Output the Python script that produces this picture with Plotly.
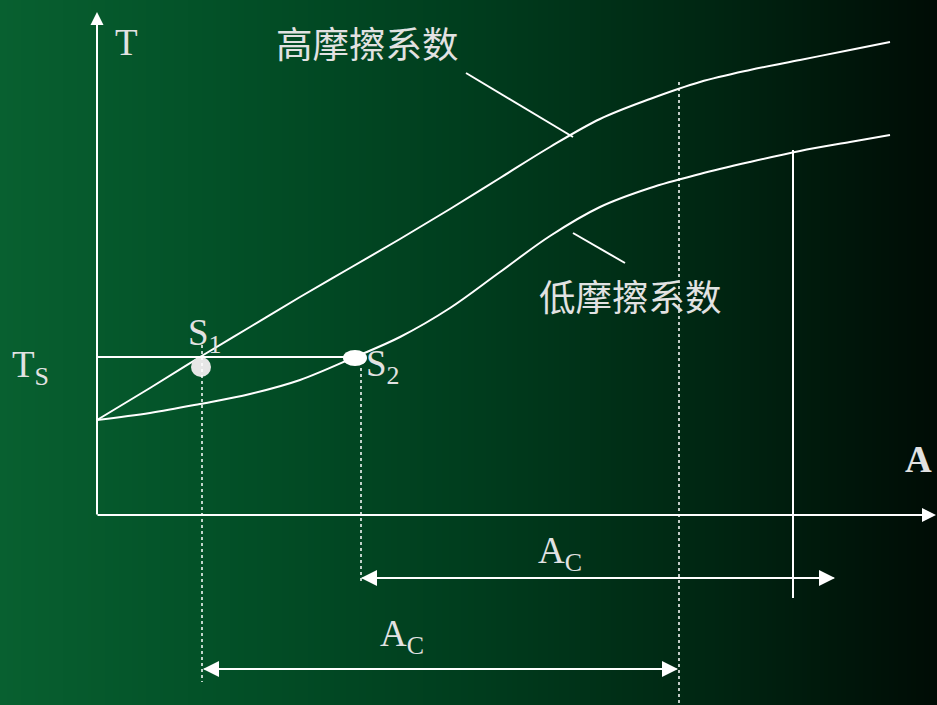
import plotly.graph_objects as go
import numpy as np

# ---- data (diagram units: pixel-like, y grows downward) ----
high_x = [97, 150, 200, 250, 300, 350, 400, 450, 500, 550, 600, 650, 700, 750, 800, 850, 890]
high_y = [420, 388, 357, 327, 297, 268, 239, 209, 178, 147, 119, 99, 82, 70, 60, 50, 42]
low_x = [97, 150, 200, 250, 300, 355, 400, 450, 500, 550, 600, 650, 700, 750, 800, 850, 890]
low_y = [420, 413, 404, 394, 380, 357, 337, 308, 272, 236, 207, 188, 174, 162, 151, 142, 135]
ts_level = 357
s1_point = (201, 367)
s2_point = (355, 358)
ac_upper = (361, 835)   # arrow span at y=578
ac_lower = (203, 678)   # arrow span at y=669

# background gradient stops (x position, rgb)
grad_x = [0, 250, 480, 710, 937]
grad_rgb = [(8, 96, 48), (2, 78, 38), (0, 60, 29), (0, 38, 18), (0, 12, 5)]

W, H = 937, 705
WHITE = "#ffffff"
TXT = "#e2e2e2"
SERIF = "Liberation Serif, Times New Roman, serif"
CJK = "Noto Sans CJK SC"

fig = go.Figure()

# gradient background via heatmap
xs = np.arange(0, W + 1, 4)
colorscale = [[gx / W, "rgb(%d,%d,%d)" % c] for gx, c in zip(grad_x, grad_rgb)]
fig.add_trace(go.Heatmap(x=xs, y=[0, H], z=[xs, xs], colorscale=colorscale,
                         zmin=0, zmax=W, showscale=False, zsmooth="best",
                         hoverinfo="skip"))

# curves
fig.add_trace(go.Scatter(x=high_x, y=high_y, mode="lines", line=dict(color=WHITE, width=2, shape="spline", smoothing=1.0), hoverinfo="skip"))
fig.add_trace(go.Scatter(x=low_x, y=low_y, mode="lines", line=dict(color=WHITE, width=2, shape="spline", smoothing=1.0), hoverinfo="skip"))

shapes = []
def line(x0, y0, x1, y1, dash="solid", w=2):
    shapes.append(dict(type="line", x0=x0, y0=y0, x1=x1, y1=y1, xref="x", yref="y",
                       line=dict(color=WHITE, width=w, dash=dash)))

# Ts horizontal
line(97, ts_level, s2_point[0], ts_level)
# dotted verticals
line(202, 345, 202, 682, dash="dot", w=1.5)
line(361, 368, 361, 582, dash="dot", w=1.5)
line(679, 82, 679, 705, dash="dot", w=1.5)
# solid vertical
line(793, 150, 793, 598)
# leader lines
line(466, 73, 573, 137)
line(573, 233, 625, 263)

# S2 ellipse
shapes.append(dict(type="circle", xref="x", yref="y", x0=s2_point[0] - 12, x1=s2_point[0] + 12,
                   y0=s2_point[1] - 8, y1=s2_point[1] + 8, fillcolor=WHITE, line=dict(width=0)))
fig.add_trace(go.Scatter(x=[s1_point[0]], y=[s1_point[1]], mode="markers",
                         marker=dict(size=20, color="#e6e6e6"), hoverinfo="skip"))

annotations = []
def arrow(xt, yt, xs_, ys_, size=1.6):
    annotations.append(dict(x=xt, y=yt, ax=xs_, ay=ys_, xref="x", yref="y", axref="x", ayref="y",
                            text="", showarrow=True, arrowhead=2, arrowwidth=2, arrowsize=size,
                            arrowcolor=WHITE))
# axes
arrow(97, 12, 97, 516, size=1.3)
arrow(936, 515, 96, 515, size=1.4)
# A_C arrows
arrow(ac_upper[0], 578, ac_upper[1], 578)
arrow(ac_upper[1], 578, ac_upper[0], 578)
arrow(ac_lower[0], 669, ac_lower[1], 669)
arrow(ac_lower[1], 669, ac_lower[0], 669)

def text(x, y, s, font=SERIF, size=37, anchor="left", color=TXT):
    annotations.append(dict(x=x, y=y, xref="x", yref="y", text=s, showarrow=False,
                            xanchor=anchor, yanchor="middle",
                            font=dict(family=font, size=size, color=color)))

text(113, 42, "T")
text(903, 459, "<b>A</b>")
text(10, 367, "T<sub>S</sub>")
text(186, 335, "S<sub>1</sub>")
text(364, 366, "S<sub>2</sub>")
text(536, 553, "A<sub>C</sub>")
text(378, 636, "A<sub>C</sub>")
text(274, 42, "高摩擦系数", font=CJK, size=36.5)
text(537, 295, "低摩擦系数", font=CJK, size=36.5)

fig.update_layout(
    width=W, height=H, margin=dict(l=0, r=0, t=0, b=0),
    paper_bgcolor="#003a1c", plot_bgcolor="#003a1c",
    showlegend=False, shapes=shapes, annotations=annotations,
    xaxis=dict(range=[0, W], visible=False, fixedrange=True),
    yaxis=dict(range=[H, 0], visible=False, fixedrange=True),
)
fig.write_html("out.html", config={"displayModeBar": False},
               post_script="document.body.style.margin='0';document.body.style.padding='0';")
